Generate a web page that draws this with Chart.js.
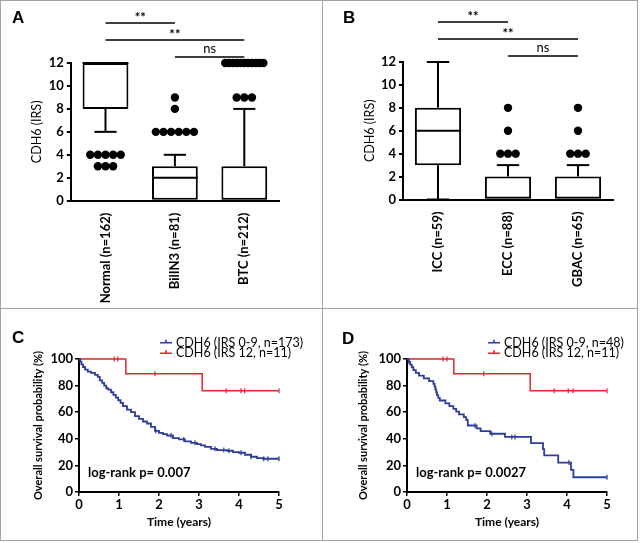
<!DOCTYPE html>
<html>
<head>
<meta charset="utf-8">
<script src="https://cdn.jsdelivr.net/npm/chart.js@4.4.1/dist/chart.umd.min.js"></script>
<style>
  body { margin: 0; background: #fff; }
  #page { position: relative; width: 640px; height: 543px; overflow: hidden; }
  .rule { position: absolute; background: #a4a4a4; }
  canvas { position: absolute; }
</style>
</head>
<body>
<div id="page">
  <div class="rule" style="left:0;top:0;width:638px;height:1px"></div>
  <div class="rule" style="left:0;top:0;width:1px;height:541px"></div>
  <div class="rule" style="left:637px;top:0;width:1px;height:541px"></div>
  <div class="rule" style="left:0;top:540px;width:638px;height:1px"></div>
  <div class="rule" style="left:322px;top:0;width:1px;height:541px"></div>
  <div class="rule" style="left:0;top:308px;width:638px;height:1px"></div>
  <canvas id="chartA" width="322" height="308" style="left:0;top:0"></canvas>
  <canvas id="chartB" width="318" height="308" style="left:322px;top:0"></canvas>
  <canvas id="chartC" width="322" height="235" style="left:0;top:308px"></canvas>
  <canvas id="chartD" width="318" height="235" style="left:322px;top:308px"></canvas>
</div>
<script>
// --- A: CDH6 IRS, normal vs BilIN3 vs BTC ---
const catsA = ['Normal (n=162)', 'BilIN3 (n=81)', 'BTC (n=212)'];
const q1A = [8, 0, 0];
const medA = [12, 2, 0];
const q3A = [12, 3, 3];
const whiskLoA = [6, 0, 0];
const whiskHiA = [12, 4, 8];
const outliersA = [
  [4, 4, 4, 4, 4, 3, 3, 3],
  [6, 6, 6, 6, 6, 6, 8, 9],
  [9, 9, 9, 12, 12, 12, 12, 12, 12, 12, 12, 12, 12, 12]
];
const bracketsA = [[0, 1, '**'], [0, 2, '**'], [1, 2, 'ns']];

// --- B: CDH6 IRS by tumour site ---
const catsB = ['ICC (n=59)', 'ECC (n=88)', 'GBAC (n=65)'];
const q1B = [3, 0, 0];
const medB = [6, 0, 0];
const q3B = [8, 2, 2];
const whiskLoB = [0, 0, 0];
const whiskHiB = [12, 3, 3];
const outliersB = [
  [],
  [4, 4, 4, 6, 8],
  [4, 4, 4, 6, 8]
];
const bracketsB = [[0, 1, '**'], [0, 2, '**'], [1, 2, 'ns']];

const boxTicks = [0, 2, 4, 6, 8, 10, 12];

// --- C: overall survival, all BTC ---
const timeLowC = [0, 0.03, 0.06, 0.1, 0.15, 0.22, 0.3, 0.4, 0.47, 0.52, 0.58, 0.63,
  0.68, 0.73, 0.8, 0.86, 0.92, 0.98, 1.04, 1.1, 1.2, 1.3, 1.4, 1.5,
  1.6, 1.7, 1.8, 1.9, 2.0, 2.1, 2.2, 2.35, 2.5, 2.65, 2.8, 2.95,
  3.05, 3.15, 3.3, 3.45, 3.7, 3.85, 4.0, 4.15, 4.3, 4.45, 4.6, 5.0];
const survLowC = [100, 98, 96, 94, 92, 90.5, 89.5, 88, 86.5, 84, 82, 80,
  78, 77, 75, 73, 71, 69, 67, 64.5, 62, 60, 57, 55,
  53, 51.5, 49, 46, 44.5, 43.5, 42.5, 40.5, 39.5, 38, 37, 36,
  35, 34, 32.5, 31.5, 31, 30, 29.5, 28, 26.5, 25.5, 25, 25];
const censLowC = [1.92, 2.3, 2.62, 2.9, 3.4, 3.62, 3.75, 4.05, 4.3, 4.62, 4.72, 5.0];
const timeHighC = [0, 1.17, 3.08, 5.0];
const survHighC = [100, 88.9, 76.2, 76.2];
const censHighC = [0.88, 0.97, 1.9, 3.68, 4.05, 4.14, 5.0];

// --- D: overall survival, ICC ---
const timeLowD = [0, 0.04, 0.08, 0.12, 0.16, 0.22, 0.3, 0.42, 0.55, 0.66, 0.69, 0.71,
  0.73, 0.75, 0.78, 0.82, 0.96, 1.06, 1.16, 1.23, 1.3, 1.42, 1.48, 1.52,
  1.74, 1.84, 2.08, 2.45, 3.1, 3.4, 3.43, 3.78, 4.1, 4.16, 5.0];
const survLowD = [100, 97.9, 95.8, 93.8, 91.7, 89.6, 87.5, 85.4, 83.3, 81.3, 79.2, 77.1,
  75, 72.9, 70.8, 68.8, 66.7, 64.6, 62.5, 60.4, 58.3, 56.3, 54.2, 50,
  47.9, 45.8, 43.8, 41.4, 36.8, 32.2, 27.6, 22.1, 16.6, 11.1, 11.1];
const censLowD = [0.05, 1.7, 2.12, 2.62, 2.7, 4.05, 5.0];
const timeHighD = [0, 1.17, 3.08, 5.0];
const survHighD = [100, 88.9, 76.2, 76.2];
const censHighD = [0.9, 1.0, 1.92, 3.68, 4.03, 4.15, 5.0];

const BLUE = '#2e3d9c';
const RED = '#e3262d';

Chart.defaults.font.family = 'Lato, "Open Sans", sans-serif';
Chart.defaults.color = '#000';

// whiskers, medians, significance bars, panel letter
const boxExtras = {
  id: 'boxExtras',
  afterDatasetsDraw(chart, args, o) {
    const { ctx, chartArea: area, scales: { x, y } } = chart;
    const line = (x0, y0, x1, y1) => {
      ctx.beginPath(); ctx.moveTo(x0, y0); ctx.lineTo(x1, y1); ctx.stroke();
    };
    ctx.save();
    ctx.strokeStyle = '#000';
    ctx.lineWidth = 2;
    o.med.forEach((m, i) => {
      const bx0 = x.getPixelForValue(i - o.boxHalf);
      const bx1 = x.getPixelForValue(i + o.boxHalf);
      const cx = x.getPixelForValue(i);
      const c0 = x.getPixelForValue(i - o.capHalf);
      const c1 = x.getPixelForValue(i + o.capHalf);
      line(bx0, y.getPixelForValue(m), bx1, y.getPixelForValue(m));
      if (o.hi[i] > o.q3[i]) {
        line(cx, y.getPixelForValue(o.q3[i]), cx, y.getPixelForValue(o.hi[i]));
        line(c0, y.getPixelForValue(o.hi[i]), c1, y.getPixelForValue(o.hi[i]));
      }
      if (o.lo[i] < o.q1[i]) {
        line(cx, y.getPixelForValue(o.q1[i]), cx, y.getPixelForValue(o.lo[i]));
        line(c0, y.getPixelForValue(o.lo[i]), c1, y.getPixelForValue(o.lo[i]));
      }
    });
    // significance bars above the plot
    ctx.lineWidth = 1.5;
    ctx.textAlign = 'center';
    ctx.textBaseline = 'alphabetic';
    o.brackets.forEach(([a, b, label], k) => {
      const yy = area.top - 40 + k * 17;
      const xa = x.getPixelForValue(a), xb = x.getPixelForValue(b);
      line(xa, yy, xb, yy);
      ctx.font = label === 'ns' ? '13px Lato' : 'bold 13px Lato';
      ctx.fillStyle = '#000';
      ctx.fillText(label, (xa + xb) / 2, yy - (label === 'ns' ? 4 : 1));
    });
    ctx.font = 'bold 17px "Liberation Sans"';
    ctx.textAlign = 'left';
    ctx.fillText(o.letter, o.letterX, o.letterY);
    ctx.restore();
  }
};

// spread tied outliers sideways around the category centre
function outlierPoints(groups) {
  const pts = [];
  groups.forEach((vals, i) => {
    const counts = {};
    vals.forEach(v => { counts[v] = (counts[v] || 0) + 1; });
    Object.keys(counts).forEach(v => {
      const n = counts[v];
      const step = n > 1 ? Math.min(0.11, 0.55 / (n - 1)) : 0;
      for (let k = 0; k < n; k++) {
        pts.push({ x: i + (k - (n - 1) / 2) * step, y: +v });
      }
    });
  });
  return pts;
}

function makeBoxChart(id, cats, q1, med, q3, lo, hi, outliers, brackets, lay) {
  return new Chart(document.getElementById(id), {
    type: 'scatter',
    data: {
      datasets: [
        {
          type: 'bar',
          data: cats.map((c, i) => ({ x: i, y: [q1[i], q3[i]] })),
          backgroundColor: '#fff',
          borderColor: '#000',
          borderWidth: 2,
          borderSkipped: false,
          barPercentage: 0.66,
          categoryPercentage: 1
        },
        {
          type: 'scatter',
          data: outlierPoints(outliers),
          backgroundColor: '#000',
          borderWidth: 0,
          pointRadius: 4.2,
          clip: false
        }
      ]
    },
    options: {
      responsive: false,
      animation: false,
      layout: { padding: { left: lay.padLeft, right: lay.padRight, top: lay.top, bottom: 0 } },
      plugins: {
        legend: { display: false },
        tooltip: { enabled: false },
        boxExtras: {
          med, q1, q3, lo, hi, brackets,
          boxHalf: 0.33, capHalf: 0.16,
          letter: lay.letter, letterX: lay.letterX, letterY: 23
        }
      },
      scales: {
        x: {
          type: 'linear', min: -0.5, max: 2.5, offset: false,
          afterBuildTicks: s => { s.ticks = cats.map((c, i) => ({ value: i })); },
          afterFit: s => {
            s.height = lay.xHeight;
            s.paddingLeft = 0;
            s.paddingRight = 0;
          },
          grid: { display: false, offset: false },
          border: { color: '#000', width: 2 },
          ticks: {
            minRotation: 90, maxRotation: 90, autoSkip: false, padding: 4,
            font: { size: 13, weight: 'bold' },
            callback: v => cats[v]
          }
        },
        y: {
          type: 'linear', min: 0, max: 12,
          afterBuildTicks: s => { s.ticks = boxTicks.map(v => ({ value: v })); },
          afterFit: s => { s.width = lay.yWidth; },
          grid: { drawOnChartArea: false, tickLength: 4, color: '#000', lineWidth: 2 },
          border: { color: '#000', width: 2 },
          ticks: { padding: 3, font: { size: 13, weight: 'bold' } },
          title: { display: true, text: 'CDH6 (IRS)', font: { size: 12.5 } }
        }
      }
    },
    plugins: [boxExtras]
  });
}

// legend, log-rank text, panel letter
const kmExtras = {
  id: 'kmExtras',
  afterDraw(chart, args, o) {
    const { ctx, chartArea: area } = chart;
    ctx.save();
    ctx.font = '12.5px Lato';
    ctx.textBaseline = 'middle';
    ctx.textAlign = 'left';
    o.legend.forEach((idx, row) => {
      const ds = chart.data.datasets[idx];
      const yy = area.top - 16.3 + row * 10.6;
      const x0 = area.left + 81;
      ctx.strokeStyle = ds.borderColor;
      ctx.lineWidth = 1.6;
      ctx.beginPath();
      ctx.moveTo(x0, yy); ctx.lineTo(x0 + 12, yy);
      ctx.moveTo(x0 + 6, yy); ctx.lineTo(x0 + 6, yy - 3);
      ctx.stroke();
      ctx.fillStyle = '#000';
      ctx.fillText(ds.label, x0 + 16, yy);
    });
    ctx.font = 'bold 13px Lato';
    ctx.fillText(o.pText, area.left + 9, area.bottom - 19);
    ctx.font = 'bold 17px "Liberation Sans"';
    ctx.textBaseline = 'alphabetic';
    ctx.fillText(o.letter, o.letterX, o.letterY);
    ctx.restore();
  }
};

const zip = (ts, ss) => ts.map((t, i) => ({ x: t, y: ss[i] }));
// survival at time t
function survAt(ts, ss, t) {
  let s = ss[0];
  ts.forEach((tt, i) => { if (tt <= t) s = ss[i]; });
  return s;
}

function makeKmChart(id, labels, tLow, sLow, cLow, tHigh, sHigh, cHigh, pText, lay) {
  const censorSet = (cs, ts, ss, color) => ({
    type: 'scatter',
    data: cs.map(t => ({ x: t, y: survAt(ts, ss, t) })),
    pointStyle: 'line',
    rotation: 90,
    pointRadius: 2.5,
    borderColor: color,
    borderWidth: 1.2,
    clip: false
  });
  return new Chart(document.getElementById(id), {
    type: 'scatter',
    data: {
      datasets: [
        { type: 'line', label: labels[0], data: zip(tLow, sLow), stepped: 'before',
          borderColor: BLUE, borderWidth: 1.8, pointRadius: 0, fill: false, clip: 4 },
        { type: 'line', label: labels[1], data: zip(tHigh, sHigh), stepped: 'before',
          borderColor: RED, borderWidth: 1.5, pointRadius: 0, fill: false, clip: 4 },
        censorSet(cLow, tLow, sLow, BLUE),
        censorSet(cHigh, tHigh, sHigh, RED)
      ]
    },
    options: {
      responsive: false,
      animation: false,
      layout: { padding: { left: lay.padLeft, right: lay.padRight, top: 51, bottom: 10 } },
      plugins: {
        legend: { display: false },
        tooltip: { enabled: false },
        kmExtras: { legend: [0, 1], pText, letter: lay.letter, letterX: lay.letterX, letterY: lay.letterY }
      },
      scales: {
        x: {
          min: 0, max: 5,
          afterFit: s => { s.height = 41; },
          grid: { drawOnChartArea: false, tickLength: 4, color: '#000', lineWidth: 1.5 },
          border: { color: '#000', width: 2 },
          ticks: { stepSize: 1, padding: 1, font: { size: 13, weight: 'bold' } },
          title: { display: true, text: 'Time (years)', font: { size: 12, weight: 'bold' } }
        },
        y: {
          min: 0, max: 100,
          afterFit: s => { s.width = lay.yWidth; },
          grid: { drawOnChartArea: false, tickLength: 4, color: '#000', lineWidth: 1.5 },
          border: { color: '#000', width: 2 },
          ticks: { stepSize: 20, padding: 2, font: { size: 13, weight: 'bold' } },
          title: { display: true, text: 'Overall survival probability (%)', font: { size: 11, weight: 'bold' } }
        }
      }
    },
    plugins: [kmExtras]
  });
}

makeBoxChart('chartA', catsA, q1A, medA, q3A, whiskLoA, whiskHiA, outliersA, bracketsA,
  { padLeft: 25.8, yWidth: 45, padRight: 43, top: 63, xHeight: 107.3, letter: 'A', letterX: 12 });
makeBoxChart('chartB', catsB, q1B, medB, q3B, whiskLoB, whiskHiB, outliersB, bracketsB,
  { padLeft: 36.8, yWidth: 44.2, padRight: 27, top: 62, xHeight: 108.5, letter: 'B', letterX: 21 });
makeKmChart('chartC', ['CDH6 (IRS 0-9, n=173)', 'CDH6 (IRS 12, n=11)'],
  timeLowC, survLowC, censLowC, timeHighC, survHighC, censHighC, 'log-rank p= 0.007',
  { padLeft: 27.4, yWidth: 51.6, padRight: 43, letter: 'C', letterX: 12, letterY: 35 });
makeKmChart('chartD', ['CDH6 (IRS 0-9, n=48)', 'CDH6 (IRS 12, n=11)'],
  timeLowD, survLowD, censLowD, timeHighD, survHighD, censHighD, 'log-rank p= 0.0027',
  { padLeft: 30.4, yWidth: 54.6, padRight: 33, letter: 'D', letterX: 20, letterY: 36 });
</script>
</body>
</html>
